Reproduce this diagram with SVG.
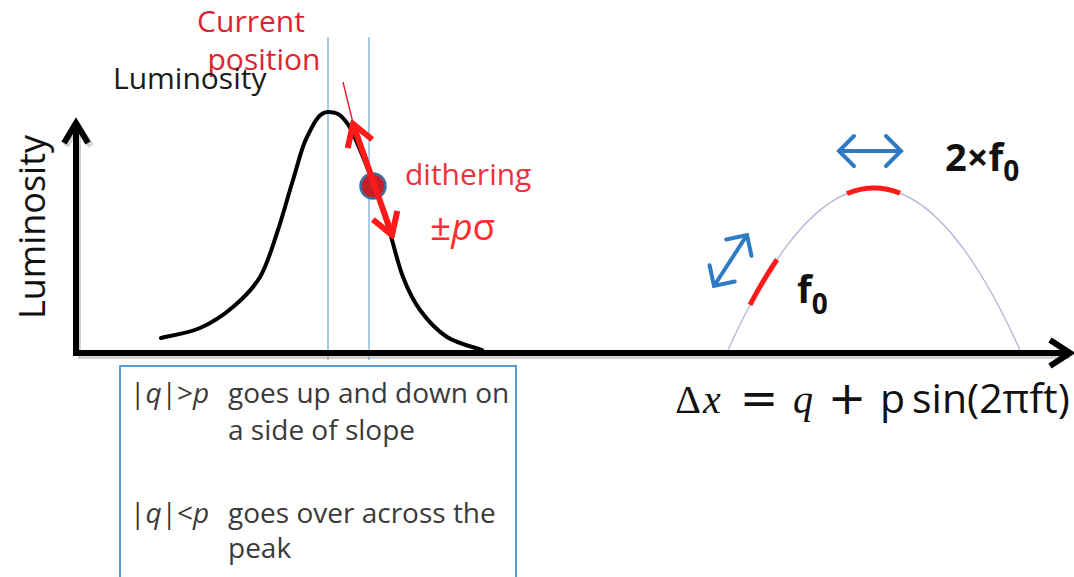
<svg xmlns="http://www.w3.org/2000/svg" width="1074" height="577" viewBox="0 0 1074 577">
<defs>
<style>
.sans{font-family:"Open Sans","Liberation Sans",sans-serif}
.red1{fill:#dc2430}
.red2{fill:#f0303a}
.box{font-family:"Open Sans","Liberation Sans",sans-serif;font-size:28px;fill:#3a3a3a}
.it{font-style:italic}
.vline{stroke:#a9c9e6;stroke-width:2;fill:none}
.axis{stroke:#000;stroke-width:6;fill:none;stroke-linejoin:miter}
.shadow{stroke:#9a9a9a;stroke-width:6;fill:none;opacity:0.45}
.blue{stroke:#2e7bc4;stroke-width:4;fill:none}
.redarr{stroke:#ff1a1a;stroke-width:6;fill:none}
.op{font-family:"DejaVu Sans",sans-serif;font-size:46px}
</style>
<marker id="chevB" markerUnits="userSpaceOnUse" viewBox="-20 -20 24 40" refX="0" refY="0" markerWidth="24" markerHeight="40" orient="auto-start-reverse">
<path d="M-15,-15 L0,0 L-15,15" fill="none" stroke="#2e7bc4" stroke-width="4" stroke-linecap="round" stroke-linejoin="miter"/>
</marker>
<marker id="chevR" markerUnits="userSpaceOnUse" viewBox="-30 -18 34 36" refX="0" refY="0" markerWidth="34" markerHeight="36" orient="auto-start-reverse">
<path d="M-21,-13 L0,0 L-21,13" fill="none" stroke="#ff1a1a" stroke-width="6" stroke-linejoin="miter"/>
</marker>
</defs>
<rect width="1074" height="577" fill="#fff"/>

<!-- vertical guide lines -->
<g id="guides">
<line class="vline" x1="328" y1="37" x2="328" y2="360"/>
<line class="vline" x1="369" y1="37" x2="369" y2="360"/>
</g>

<!-- luminosity curve -->
<g id="gaussian">
<path d="M161,338 C167.5,336.3 188,333.2 200,328 C212,322.8 223,315.5 233,307 C243,298.5 252.7,289.3 260,277 C267.3,264.7 271.5,249.2 277,233 C282.5,216.8 288,196 293,180 C298,164 301.2,148.3 307,137 C312.8,125.7 318,112 328,112 C338,112 341.2,115.5 347,123 C352.8,130.5 358,145.3 363,157 C368,168.7 372.5,180.3 377,193 C381.5,205.7 385.7,219 390,233 C394.3,247 398,264.2 403,277 C408,289.8 412.7,300 420,310 C427.3,320 436.7,330.3 447,337 C457.3,343.7 476.2,347.8 482,350" fill="none" stroke="#000" stroke-width="4" stroke-linecap="round"/>
</g>

<!-- parabola -->
<g id="parabola">
<path d="M728,350 Q874,26 1020,350" fill="none" stroke="#b4b4d8" stroke-width="1.3"/>
<path d="M750,304.8 Q763.5,279.4 777,259.5" fill="none" stroke="#ff1a1a" stroke-width="5"/>
<path d="M847,193.5 Q873.5,182.6 900,193.1" fill="none" stroke="#ff1a1a" stroke-width="5"/>
</g>

<!-- axes -->
<g id="axes">
<path class="shadow" d="M78,355 L78,124 M66,146 L78,126 L91,146"/>
<path class="shadow" d="M78,356 L1070,356"/>
<path class="axis" d="M76,352 L76,122"/>
<path class="axis" d="M64,143 L76,123 L88,143"/>
<path class="axis" d="M73,353 L1069,353"/>
<path class="axis" d="M1050,340 L1070,353 L1050,366"/>
</g>

<g id="connectors">
<line x1="343" y1="82" x2="353" y2="123" stroke="#e8283a" stroke-width="1.5"/>
<circle cx="373" cy="186" r="12.5" fill="#c4202a" stroke="#3d6fa3" stroke-width="2.5"/>
<line class="redarr" x1="353" y1="124" x2="392" y2="235" marker-start="url(#chevR)" marker-end="url(#chevR)"/>
<line class="blue" x1="839" y1="151" x2="901" y2="151" marker-start="url(#chevB)" marker-end="url(#chevB)"/>
<line class="blue" x1="714" y1="286" x2="747" y2="235" marker-start="url(#chevB)" marker-end="url(#chevB)"/>
</g>

<!-- labels -->
<g id="label-current">
<text class="sans red1" x="251" y="32" font-size="30" text-anchor="middle">Current</text>
<text class="sans red1" x="264" y="70" font-size="30" text-anchor="middle">position</text>
</g>
<g id="label-lum-top">
<text class="sans" x="113" y="89" font-size="30" fill="#1a1a1a">Luminosity</text>
</g>
<g id="label-dithering">
<text class="sans red2" x="405" y="185" font-size="30">dithering</text>
<text class="sans" x="430" y="240" font-size="37" fill="#ff2d2d">±<tspan class="it">p</tspan>σ</text>
</g>
<g id="label-yaxis">
<text class="sans" transform="translate(45,227) rotate(-90)" font-size="36" text-anchor="middle" fill="#111">Luminosity</text>
</g>
<g id="label-2f0">
<text class="sans" x="945" y="171" font-size="38" font-weight="bold" fill="#111">2×f<tspan font-size="28" dy="10">0</tspan></text>
</g>
<g id="label-f0">
<text class="sans" x="797" y="303" font-size="38" font-weight="bold" fill="#111">f<tspan font-size="28" dy="11">0</tspan></text>
</g>
<g id="formula" font-size="40" fill="#111">
<text x="688" y="413" text-anchor="middle" font-family="'Liberation Serif',serif">Δ</text>
<text x="712" y="413" text-anchor="middle" font-family="'Liberation Serif',serif" font-style="italic">x</text>
<text class="op" x="759" y="414" text-anchor="middle">=</text>
<text x="803" y="413" text-anchor="middle" font-family="'Liberation Serif',serif" font-style="italic">q</text>
<text class="op" x="847" y="414" text-anchor="middle">+</text>
<text class="sans" x="880" y="413" font-size="41">p</text>
<text class="sans" x="912" y="413" font-size="41">sin(2πft)</text>
</g>

<!-- explanation box -->
<g id="note-box">
<rect x="120" y="366" width="396" height="230" fill="none" stroke="#5b9bd5" stroke-width="2"/>
<text class="box" x="130" y="403">|<tspan class="it">q</tspan>|&gt;<tspan class="it">p</tspan></text>
<text class="box" x="228" y="403">goes up and down on</text>
<text class="box" x="228" y="440">a side of slope</text>
<text class="box" x="130" y="523">|<tspan class="it">q</tspan>|&lt;<tspan class="it">p</tspan></text>
<text class="box" x="228" y="523">goes over across the</text>
<text class="box" x="228" y="558">peak</text>
</g>
</svg>
